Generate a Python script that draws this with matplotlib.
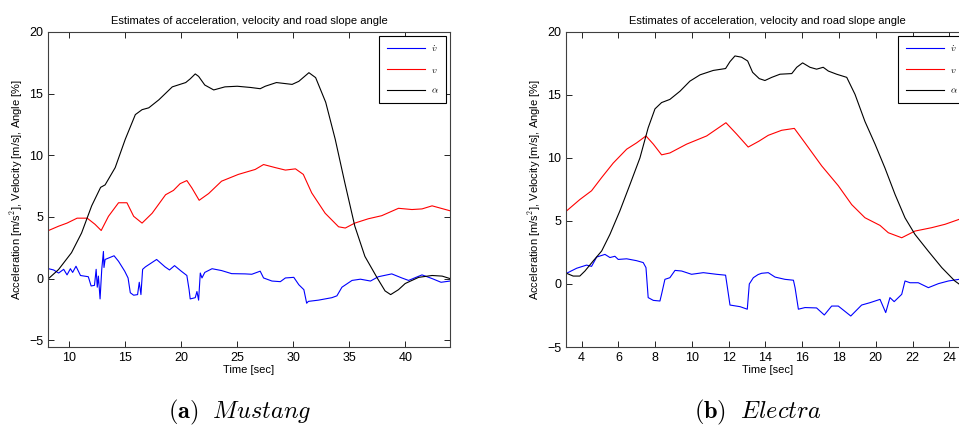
import matplotlib.pyplot as plt
import numpy as np

plt.rcParams['font.family'] = ['Liberation Sans', 'DejaVu Sans']
plt.rcParams['mathtext.fontset'] = 'cm'

# ---- (a) Mustang ----
m_alpha_t = [8.15, 9.04, 10.2, 11.1, 12.0, 12.8, 13.2, 14.1, 15.0, 15.9, 16.5, 17.1, 18.0, 19.2,
             20.4, 20.8, 21.25, 21.55, 22.1, 22.9, 23.9, 25.0, 26.2, 27.05, 27.5, 28.5, 29.9, 30.5,
             31.4, 32.0, 32.9, 33.75, 34.6, 35.5, 36.4, 37.5, 38.2, 38.7, 39.4, 40.0, 41.2, 42.4,
             43.3, 44.0]
m_alpha = [0.0, 0.73, 2.1, 3.7, 5.9, 7.4, 7.6, 9.0, 11.3, 13.3, 13.7, 13.85, 14.5, 15.55,
           15.9, 16.2, 16.6, 16.4, 15.7, 15.3, 15.55, 15.6, 15.5, 15.4, 15.6, 15.9, 15.75, 16.0,
           16.7, 16.3, 14.3, 11.3, 7.8, 4.25, 1.8, 0.05, -1.0, -1.3, -0.9, -0.4, 0.1, 0.25,
           0.2, 0.0]

m_v_t = [8.15, 9.05, 9.8, 10.7, 11.6, 12.3, 12.85, 13.5, 14.4, 15.15, 15.75, 16.5, 17.4, 18.6,
         19.3, 19.9, 20.5, 20.95, 21.6, 22.45, 23.6, 25.1, 26.6, 27.35, 28.4, 29.3, 30.2, 30.9,
         31.65, 32.85, 34.05, 34.65, 35.5, 36.7, 37.9, 39.4, 40.6, 41.5, 42.4, 44.0]
m_v = [3.9, 4.25, 4.5, 4.9, 4.9, 4.4, 3.9, 5.05, 6.15, 6.15, 5.05, 4.5, 5.3, 6.8,
       7.15, 7.7, 7.95, 7.35, 6.35, 6.9, 7.9, 8.45, 8.85, 9.25, 9.0, 8.8, 8.9, 8.45,
       6.95, 5.3, 4.2, 4.1, 4.5, 4.85, 5.1, 5.7, 5.6, 5.65, 5.9, 5.5]

m_acc_t = [8.15, 8.6, 9.05, 9.5, 9.8, 10.1, 10.3, 10.6, 11.0, 11.7, 11.95, 12.25, 12.4, 12.5,
           12.6, 12.75, 12.9, 13.05, 13.1, 13.2, 14.0, 14.4, 14.95, 15.25, 15.45, 15.75, 16.1,
           16.25, 16.4, 16.55, 16.8, 17.8, 18.55, 18.95, 19.4, 20.0, 20.5, 20.7, 20.8, 21.25,
           21.4, 21.55, 21.7, 21.85, 22.1, 22.75, 23.6, 24.5, 25.7, 26.3, 27.05, 27.35, 28.1,
           28.85, 29.3, 30.05, 30.5, 30.95, 31.2, 31.35, 32.25, 33.45, 33.9, 34.35, 35.25, 36.0,
           36.9, 37.6, 38.8, 39.7, 40.3, 41.5, 42.4, 43.2, 44.0]
m_acc = [0.8, 0.7, 0.45, 0.75, 0.3, 0.8, 0.5, 1.0, 0.25, 0.15, -0.6, -0.55, 0.75, -0.7,
         0.2, -1.65, 0.75, 2.2, 0.9, 1.55, 1.85, 1.4, 0.6, 0.05, -1.15, -1.35, -1.3,
         -0.3, -1.3, 0.75, 0.95, 1.55, 0.95, 0.7, 1.05, 0.6, 0.25, -0.9, -1.65, -1.55,
         -1.05, -1.75, 0.45, 0.05, 0.5, 0.8, 0.65, 0.4, 0.38, 0.35, 0.6, 0.05, -0.2,
         -0.25, 0.05, 0.1, -0.5, -0.9, -2.0, -1.85, -1.75, -1.55, -1.4, -0.7, -0.15, -0.05,
         -0.2, 0.15, 0.38, 0.05, -0.15, 0.3, 0.0, -0.3, -0.2]

# ---- (b) Electra ----
e_alpha_t = [3.18, 3.54, 3.9, 4.18, 4.63, 5.09, 5.54, 6.08, 6.63, 7.17, 7.62, 7.99, 8.35, 8.8,
             9.35, 9.89, 10.44, 11.16, 11.83, 12.07, 12.34, 12.7, 13.03, 13.3, 13.66, 13.97,
             14.34, 14.79, 15.43, 15.7, 16.02, 16.42, 16.78, 17.14, 17.42, 17.87, 18.42, 18.87,
             19.41, 19.96, 20.5, 21.05, 21.59, 22.13, 22.86, 23.59, 24.3, 25.1]
e_alpha = [0.85, 0.63, 0.63, 1.03, 1.83, 2.62, 3.94, 5.8, 7.9, 10.0, 12.4, 13.9, 14.4, 14.65,
           15.3, 16.1, 16.6, 16.95, 17.1, 17.65, 18.1, 18.0, 17.7, 16.8, 16.3, 16.15,
           16.4, 16.65, 16.7, 17.2, 17.55, 17.2, 17.05, 17.2, 16.9, 16.65, 16.4, 15.05,
           12.9, 11.1, 9.2, 7.1, 5.25, 3.94, 2.6, 1.3, 0.24, -0.6]

e_v_t = [3.18, 3.9, 4.54, 5.09, 5.72, 6.45, 6.99, 7.5, 7.9, 8.35, 8.8, 9.71, 10.8, 11.85,
         12.43, 13.06, 13.66, 14.15, 14.88, 15.57, 16.15, 17.06, 17.96, 18.69, 19.41, 20.23,
         20.68, 21.41, 22.13, 23.04, 23.77, 24.53, 25.1]
e_v = [5.8, 6.7, 7.4, 8.45, 9.6, 10.7, 11.2, 11.75, 11.1, 10.25, 10.4, 11.1, 11.75, 12.8,
       11.9, 10.87, 11.35, 11.8, 12.2, 12.35, 11.2, 9.37, 7.8, 6.3, 5.26, 4.65,
       4.07, 3.67, 4.2, 4.47, 4.74, 5.13, 5.4]

e_acc_t = [3.18, 3.73, 4.27, 4.54, 4.82, 5.27, 5.54, 5.81, 5.99, 6.45, 6.99, 7.35, 7.5, 7.62,
           7.9, 8.26, 8.35, 8.53, 8.8, 9.08, 9.44, 9.98, 10.62, 11.34, 11.83, 12.07, 12.62,
           13.01, 13.12, 13.34, 13.6, 13.79, 14.15, 14.52, 15.06, 15.52, 15.61, 15.79, 16.15,
           16.78, 17.2, 17.6, 17.96, 18.64, 19.23, 19.69, 20.23, 20.54, 20.77, 21.0, 21.41,
           21.59, 21.86, 22.31, 22.86, 23.41, 23.95, 24.53, 25.1]
e_acc = [0.85, 1.25, 1.5, 1.4, 2.14, 2.35, 2.1, 2.2, 1.95, 2.0, 1.85, 1.7, 1.3, -1.08,
         -1.3, -1.35, -0.8, 0.37, 0.5, 1.08, 1.03, 0.77, 0.9, 0.77, 0.7, -1.67, -1.8,
         -2.0, 0.0, 0.5, 0.75, 0.85, 0.9, 0.55, 0.37, 0.3, -0.3, -2.0, -1.87,
         -1.9, -2.46, -1.75, -1.75, -2.54, -1.67, -1.48, -1.22, -2.27, -1.08, -1.4, -0.82,
         0.24, 0.1, 0.1, -0.29, 0.03, 0.24, 0.37, 0.4]

fig = plt.figure(figsize=(9.59, 4.28), dpi=100)
ax1 = fig.add_axes([48/959, 1 - 347/428, 402/959, 315/428])
ax2 = fig.add_axes([566/959, 1 - 347/428, 403/959, 315/428])

panels = [
    (ax1, m_acc_t, m_acc, m_v_t, m_v, m_alpha_t, m_alpha, (8.1, 44.0), (-5.55, 20),
     [10, 15, 20, 25, 30, 35, 40], r'$\mathbf{(a)}\ \ \mathit{Mustang}$', 240),
    (ax2, e_acc_t, e_acc, e_v_t, e_v, e_alpha_t, e_alpha, (3.15, 25.07), (-5, 20),
     [4, 6, 8, 10, 12, 14, 16, 18, 20, 22, 24], r'$\mathbf{(b)}\ \ \mathit{Electra}$', 758),
]

for ax, at, a, vt, v, alt, al, xl, yl, xt, cap, cx in panels:
    ax.plot(at, a, c='#0000ff', lw=0.8, label=r'$\dot{v}$')
    ax.plot(vt, v, c='#ff0000', lw=0.8, label=r'$v$')
    ax.plot(alt, al, c='k', lw=0.8, label=r'$\alpha$')
    ax.set_xlim(*xl)
    ax.set_ylim(*yl)
    ax.set_xticks(xt)
    ax.set_yticks([-5, 0, 5, 10, 15, 20])
    ax.tick_params(direction='in', top=True, right=True, length=4, labelsize=9, width=0.6)
    for s in ax.spines.values():
        s.set_linewidth(0.8)
        s.set_color('#404040')
    ax.set_title('Estimates of acceleration, velocity and road slope angle', fontsize=8, pad=6)
    ax.set_xlabel('Time [sec]', fontsize=8, labelpad=1)
    ax.set_ylabel(r'Acceleration [m/s$^2$], Velocity [m/s], Angle [%]', fontsize=8, labelpad=3)
    leg = ax.legend(loc='upper right', fontsize=7, handlelength=3.9, handletextpad=0.6,
                    labelspacing=1.1, borderpad=0.8, borderaxespad=0.4, fancybox=False,
                    edgecolor='k', framealpha=1)
    leg.get_frame().set_linewidth(0.8)
    fig.text(cx / 959, 1 - 412 / 428, cap, fontsize=17.5, ha='center', va='center')

fig.savefig('out.png', dpi=100)
